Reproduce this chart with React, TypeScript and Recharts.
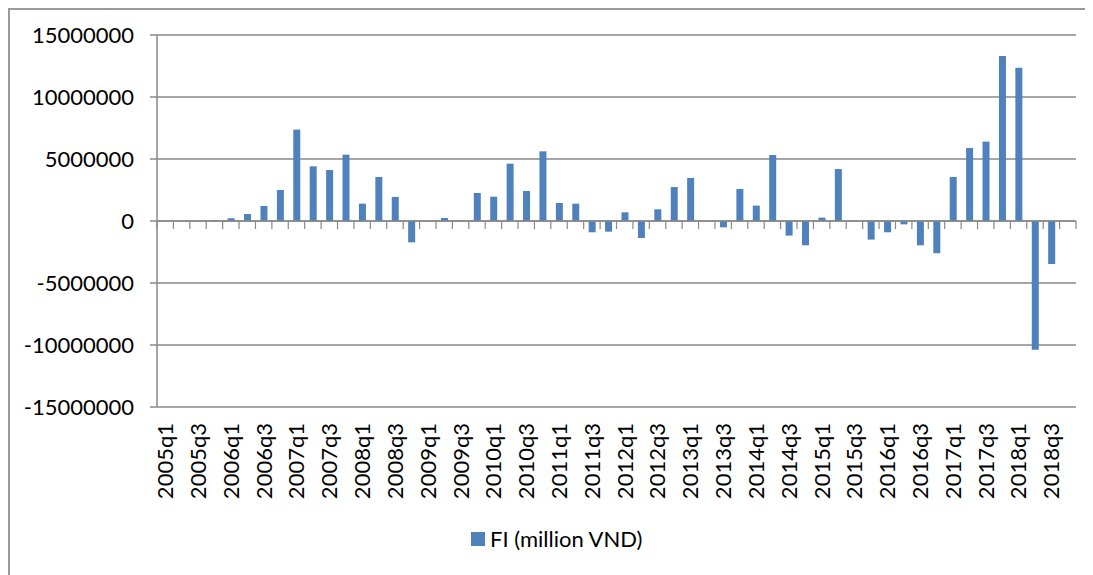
import React from 'react';
import { BarChart, Bar, XAxis, YAxis, CartesianGrid, ReferenceLine, Legend } from 'recharts';

const quarters = [
  '2005q1', '2005q2', '2005q3', '2005q4',
  '2006q1', '2006q2', '2006q3', '2006q4',
  '2007q1', '2007q2', '2007q3', '2007q4',
  '2008q1', '2008q2', '2008q3', '2008q4',
  '2009q1', '2009q2', '2009q3', '2009q4',
  '2010q1', '2010q2', '2010q3', '2010q4',
  '2011q1', '2011q2', '2011q3', '2011q4',
  '2012q1', '2012q2', '2012q3', '2012q4',
  '2013q1', '2013q2', '2013q3', '2013q4',
  '2014q1', '2014q2', '2014q3', '2014q4',
  '2015q1', '2015q2', '2015q3', '2015q4',
  '2016q1', '2016q2', '2016q3', '2016q4',
  '2017q1', '2017q2', '2017q3', '2017q4',
  '2018q1', '2018q2', '2018q3', '2018q4',
];

const fiValues = [
  0, 0, 0, 80000,
  220000, 560000, 1210000, 2500000,
  7370000, 4410000, 4110000, 5350000,
  1400000, 3550000, 1940000, -1720000,
  0, 240000, 40000, 2260000,
  1960000, 4620000, 2420000, 5620000,
  1450000, 1400000, -910000, -860000,
  700000, -1370000, 940000, 2740000,
  3470000, 0, -510000, 2580000,
  1240000, 5320000, -1180000, -1960000,
  270000, 4190000, -50000, -1500000,
  -910000, -270000, -1960000, -2600000,
  3550000, 5890000, 6400000, 13300000,
  12360000, -10380000, -3470000, 0,
];

const yTicks = [-15000000, -10000000, -5000000, 0, 5000000, 10000000, 15000000];
const seriesName = 'FI (million VND)';

const data = quarters.map((q, i) => ({ q, fi: fiValues[i] }));

const FONT = 'Lato, "Open Sans", sans-serif';
const AXIS = '#898989';
const BAR = '#4F81BD';
const W = 1085;
const H = 567;

const XTick = (props: any) => {
  const { x, y, payload } = props;
  return (
    <g transform={`translate(${x},${y})`}>
      <text
        transform="rotate(-90)"
        x={-16}
        y={0}
        dy="0.36em"
        textAnchor="end"
        fill="#000"
        fontSize={22}
        fontFamily={FONT}
      >
        {payload.value}
      </text>
    </g>
  );
};

const ZeroAxis = (props: any) => {
  const { x1, y1, x2, y2 } = props;
  const n = quarters.length;
  const step = (x2 - x1) / n;
  const marks = Array.from({ length: n + 1 }, (_, i) => x1 + i * step);
  return (
    <g>
      <line x1={x1} y1={y1} x2={x2} y2={y2} stroke={AXIS} strokeWidth={1.5} />
      {marks.map((t, i) => (
        <line key={i} x1={t} x2={t} y1={y1} y2={y1 + 8} stroke={AXIS} strokeWidth={1.2} />
      ))}
    </g>
  );
};

const LegendContent = () => (
  <div
    style={{
      position: 'relative',
      height: 30,
      width: W,
      fontFamily: FONT,
      fontSize: 22,
      color: '#000',
      whiteSpace: 'nowrap',
    }}
  >
    <div
      style={{
        position: 'absolute',
        left: 463,
        top: 8,
        width: 0,
        height: 0,
        borderStyle: 'solid',
        borderWidth: 7,
        borderColor: BAR,
      }}
    />
    <div style={{ position: 'absolute', left: 482, top: 0, lineHeight: '30px' }}>{seriesName}</div>
  </div>
);

export default function App() {
  return (
    <div style={{ position: 'relative', width: W, height: H }}>
      <BarChart
        width={W}
        height={H}
        data={data}
        margin={{ top: 27, right: 17, left: 0, bottom: 28 }}
      >
        <CartesianGrid vertical={false} stroke={AXIS} strokeWidth={1.5} />
        <XAxis
          dataKey="q"
          interval={1}
          tick={<XTick />}
          axisLine={false}
          tickLine={false}
          tickSize={0}
          tickMargin={0}
          height={110}
        />
        <YAxis
          type="number"
          domain={[-15000000, 15000000]}
          ticks={yTicks}
          interval={0}
          width={149}
          axisLine={{ stroke: AXIS, strokeWidth: 1.5 }}
          tickLine={{ stroke: AXIS, strokeWidth: 1.5 }}
          tickSize={7}
          tickMargin={16}
          tick={{ fill: '#000', fontSize: 22, fontFamily: FONT }}
        />
        <Bar dataKey="fi" name={seriesName} fill={BAR} barSize={7} isAnimationActive={false} />
        <ReferenceLine y={0} shape={<ZeroAxis />} />
        <Legend
          verticalAlign="bottom"
          content={<LegendContent />}
          wrapperStyle={{ position: 'absolute', left: 0, top: 516, width: W, height: 30 }}
        />
      </BarChart>
      <div
        style={{
          position: 'absolute',
          top: 0,
          left: 0,
          width: W,
          height: H,
          borderTop: '2px solid #9a9a9a',
          borderLeft: '2px solid #9a9a9a',
          pointerEvents: 'none',
          boxSizing: 'border-box',
        }}
      />
    </div>
  );
}
